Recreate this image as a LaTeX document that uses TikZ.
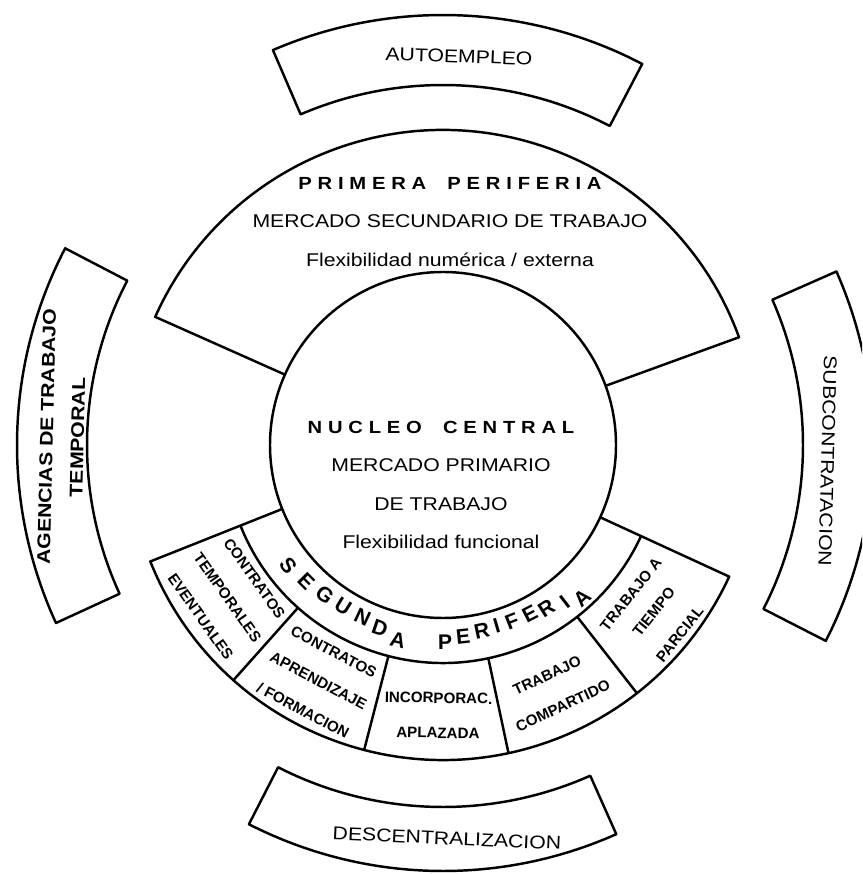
\documentclass[tikz,border=0pt]{standalone}
\usepackage{fontspec}
\newfontfamily\plainfont{Liberation Sans}
\newfontfamily\widefont{Liberation Sans}[FakeStretch=1.15]
\newfontfamily\spacedfont{Liberation Sans}[FakeStretch=1.15, LetterSpace=33]
\usetikzlibrary{positioning}

\tikzset{
  rim/.style={draw, line width=1.4pt, line join=round},
  bandtext/.style={font=\widefont\fontsize{10.5}{13}\selectfont, inner sep=0pt, text height=7.6pt, text depth=0pt},
  titletext/.style={font=\spacedfont\bfseries\fontsize{10}{12}\selectfont, inner sep=0pt, text height=7.6pt, text depth=0pt},
  arcletter/.style={font=\plainfont\bfseries\fontsize{12}{14}\selectfont, inner sep=0pt},
  boxtext/.style={font=\plainfont\bfseries\fontsize{8.6}{10}\selectfont, inner sep=0pt}
}

\begin{document}
\begin{tikzpicture}[x=0.02cm, y=0.02cm, node distance=13.8pt]
    \clip (-443,-429) rectangle (419,445);

    % Nucleo central
    \draw[rim] (0,0) circle[radius=173];
    \node (NucleoTitle) [titletext] at (-2,18) {NUCLEO\hspace{12pt}CENTRAL};
    \node (NucleoMercado) [bandtext, below=of NucleoTitle] {MERCADO PRIMARIO};
    \node (NucleoTrabajo) [bandtext, below=of NucleoMercado] {DE TRABAJO};
    \node (NucleoFlex) [bandtext, below=of NucleoTrabajo] {Flexibilidad funcional};

    % Primera periferia
    \draw[rim] (20:173) -- (20:315) arc[start angle=20, end angle=156, radius=315] -- (156:173);
    \node (PrimeraTitle) [titletext] at (7,262) {PRIMERA\hspace{12pt}PERIFERIA};
    \node (PrimeraMercado) [bandtext, below=of PrimeraTitle] {MERCADO SECUNDARIO DE TRABAJO};
    \node (PrimeraFlex) [bandtext, below=of PrimeraMercado] {Flexibilidad numérica / externa};

    % Segunda periferia
    \draw[rim] (201.7:173) -- (201.7:315) arc[start angle=201.7, end angle=335.3, radius=315] -- (335.3:173);
    \draw[rim] (201.7:218) arc[start angle=201.7, end angle=335.3, radius=218];
    \foreach \a in {228.3,255.5,282,308}
        \draw[rim] (\a:218) -- (\a:315);
    \foreach \a/\r/\c [count=\i] in {217.8/196/S, 224.9/193/E, 231.8/191/G, 238.3/190/U,
            245/190/N, 251/194/D, 257/200/A, 270.6/197/P, 276/193/E, 281.8/190/R,
            286.5/189/I, 291.4/189/F, 297.2/190/E, 302.4/193/R, 307.7/199/I, 312.2/207/A}
        \node (Segunda\i) [arcletter, rotate=\a+90] at (\a:\r) {\c};

    % Segunda periferia: boxes
    \node (ContratosTemp) [boxtext, rotate=-54.7] at (215.3:231) {CONTRATOS};
    \node (Temporales) [boxtext, rotate=-54.7] at (215.3:264) {TEMPORALES};
    \node (Eventuales) [boxtext, rotate=-54.7] at (215.3:297) {EVENTUALES};
    \node (ContratosApr) [boxtext, rotate=-27.8] at (242.2:234) {CONTRATOS};
    \node (Aprendizaje) [boxtext, rotate=-27.8] at (242.2:267) {APRENDIZAJE};
    \node (Formacion) [boxtext, rotate=-27.8] at (242.2:300) {/ FORMACION};
    \node (Incorporac) [boxtext, rotate=-1] at (269:253) {INCORPORAC.};
    \node (Aplazada) [boxtext, rotate=-1] at (269:288) {APLAZADA};
    \node (TrabajoComp) [boxtext, rotate=25] at (294.3:253) {TRABAJO};
    \node (Compartido) [boxtext, rotate=25] at (294.7:287) {COMPARTIDO};
    \node (TrabajoParc) [boxtext, rotate=51.5] at (321.5:240) {TRABAJO A};
    \node (Tiempo) [boxtext, rotate=51.5] at (321.6:269) {TIEMPO};
    \node (Parcial) [boxtext, rotate=51.5] at (321.4:303) {PARCIAL};

    % Outer bands
    \draw[rim] (62.4:360) arc[start angle=62.4, end angle=113.3, radius=360] -- (113.3:430) arc[start angle=113.3, end angle=62.4, radius=430] -- cycle;
    \draw[rim] (-27.1:360) arc[start angle=-27.1, end angle=23.8, radius=360] -- (23.8:430) arc[start angle=23.8, end angle=-27.1, radius=430] -- cycle;
    \draw[rim] (152.5:356) arc[start angle=152.5, end angle=204.7, radius=356] -- (204.7:426) arc[start angle=204.7, end angle=152.5, radius=426] -- cycle;
    \draw[rim] (242.9:362) arc[start angle=242.9, end angle=294, radius=362] -- (294:426) arc[start angle=294, end angle=242.9, radius=426] -- cycle;

    % Labels
    \node (Autoempleo) [bandtext, rotate=-2] at (16,389) {AUTOEMPLEO};
    \node (Subcontratacion) [bandtext, rotate=-91.5] at (385,-16) {SUBCONTRATACION};
    \node (Agencias) [inner sep=0pt, align=center, rotate=88.6, font=\widefont\bfseries\fontsize{10.5}{17.6}\selectfont] at (-381,8) {AGENCIAS DE TRABAJO\\TEMPORAL};
    \node (Descentralizacion) [bandtext, rotate=-2.5] at (4,-393) {DESCENTRALIZACION};

\end{tikzpicture}
\end{document}
